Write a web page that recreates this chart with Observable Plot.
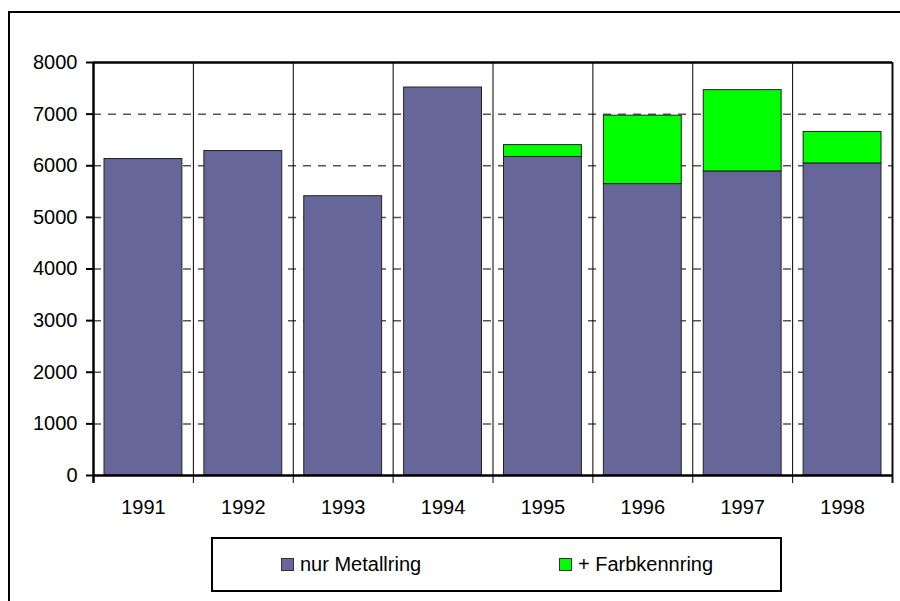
<!DOCTYPE html>
<html>
<head>
<meta charset="utf-8">
<script src="https://cdn.jsdelivr.net/npm/d3@7"></script>
<script src="https://cdn.jsdelivr.net/npm/@observablehq/plot@0.6"></script>
<style>
  html, body { margin: 0; padding: 0; background: #fff; overflow: hidden; }
  #wrap { position: relative; width: 900px; height: 601px; overflow: hidden; font-family: "Liberation Sans", Arial, sans-serif; }
  #wrap svg { position: absolute; left: 0; top: 0; }
  #frame { position: absolute; left: 8px; top: 11px; width: 1000px; height: 1000px; border: 2px solid #000; box-sizing: border-box; pointer-events: none; }
  #legend { position: absolute; left: 211px; top: 537px; width: 571px; height: 55px; border: 2px solid #000; box-sizing: border-box; background: #fff; }
  .item { position: absolute; top: 0; height: 51px; display: flex; align-items: center; font-size: 20px; color: #000; }
  .sw { width: 13px; height: 13px; border: 1px solid #333; box-sizing: border-box; margin-right: 6px; }
</style>
</head>
<body>
<div id="wrap"><div id="frame"></div></div>
<script>
const years = ["1991", "1992", "1993", "1994", "1995", "1996", "1997", "1998"];
const metall = [6130, 6285, 5410, 7515, 6170, 5645, 5890, 6045];
const farb = [0, 0, 0, 0, 230, 1325, 1575, 610];
const seriesNames = ["nur Metallring", "+ Farbkennring"];
const seriesColors = ["#666699", "#00ff00"];
const yTicks = [0, 1000, 2000, 3000, 4000, 5000, 6000, 7000, 8000];

const rows = [];
years.forEach((yr, i) => {
  rows.push({year: yr, series: seriesNames[0], value: metall[i]});
  rows.push({year: yr, series: seriesNames[1], value: farb[i]});
});

const W = 900, H = 601, mL = 93, mR = 8, mT = 62, mB = 126;
const step = (W - mL - mR) / years.length;

const chart = Plot.plot({
  width: W, height: H,
  marginLeft: mL, marginRight: mR, marginTop: mT, marginBottom: mB,
  style: {fontFamily: "'Liberation Sans', Arial, sans-serif", fontSize: "20px", background: "transparent", color: "#000"},
  x: {domain: years, padding: 0, round: false, label: null},
  y: {domain: [0, 8000], label: null},
  color: {domain: seriesNames, range: seriesColors},
  marks: [
    Plot.ruleY(yTicks.slice(1, -1), {stroke: "#555", strokeWidth: 1.5, strokeDasharray: "8,7"}),
    Plot.barY(rows, {x: "year", y: "value", fill: "series", stroke: "#222", strokeWidth: 1, insetLeft: 11, insetRight: 11}),
    Plot.ruleX(years.slice(1), {x: d => d, dx: -step / 2, stroke: "#000", strokeWidth: 1, insetBottom: -8}),
    Plot.ruleX(years.slice(0, 1), {x: d => d, dx: -step / 2, stroke: "#000", strokeWidth: 2.5, insetBottom: -8}),
    Plot.ruleX(years.slice(-1), {x: d => d, dx: step / 2, stroke: "#111", strokeWidth: 2, insetBottom: -8}),
    Plot.ruleY([8000], {stroke: "#000", strokeWidth: 2.5}),
    Plot.ruleY([0], {stroke: "#000", strokeWidth: 2.5}),
    Plot.axisY({ticks: yTicks, tickSize: 7, tickPadding: 9, tickFormat: d => String(d), fontSize: 20, strokeWidth: 2}),
    Plot.axisX({tickSize: 0, tickPadding: 24, fontSize: 20})
  ]
});
document.getElementById("wrap").insertBefore(chart, document.getElementById("frame"));

const legend = document.createElement("div");
legend.id = "legend";
const itemLefts = [68, 346];
seriesNames.forEach((name, i) => {
  const it = document.createElement("div");
  it.className = "item";
  it.style.left = itemLefts[i] + "px";
  const sw = document.createElement("span");
  sw.className = "sw";
  sw.style.background = seriesColors[i];
  const tx = document.createElement("span");
  tx.textContent = name;
  it.appendChild(sw);
  it.appendChild(tx);
  legend.appendChild(it);
});
document.getElementById("wrap").appendChild(legend);
</script>
</body>
</html>
